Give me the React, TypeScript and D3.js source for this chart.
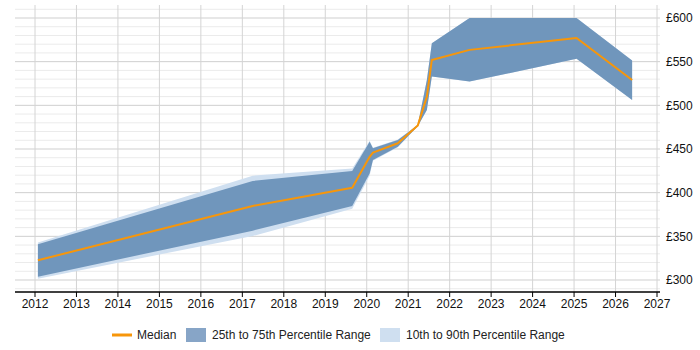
import React from "react";
import { scaleLinear, area, line, range } from "d3";

// sample dates (decimal years) and percentile values in £
const dates = [2012.07, 2017.25, 2019.65, 2020.07, 2020.15, 2020.75, 2021.23, 2021.45, 2021.57, 2022.48, 2025.06, 2026.4];
const median = [322.6, 384.8, 405.7, 441, 445.8, 456.6, 476.8, 510, 552, 563.5, 577.1, 529];
const p25 = [303.8, 356.5, 384.8, 422, 437.5, 452.7, 476, 494.8, 532.9, 527.2, 553.2, 506.2];
const p75 = [340.9, 413.4, 424.9, 458.4, 450.8, 460.4, 477.5, 529, 571, 600, 600, 551.3];
const p10 = [301.5, 350.4, 381.7, 419.5, 436.5, 452, 476, 494.8, 532.9, 527.2, 553.2, 506.2];
const p90 = [343, 419.5, 427.6, 459.5, 451.5, 461, 477.5, 529, 571, 600, 600, 551.3];

const yearTicks = range(2012, 2028);
const priceTicks = [300, 350, 400, 450, 500, 550, 600];
const minorTicks = range(290, 620, 10);

const legendItems = [
  { label: "Median", kind: "line", color: "#f7960a" },
  { label: "25th to 75th Percentile Range", kind: "box", color: "#87a5c7" },
  { label: "10th to 90th Percentile Range", kind: "box", color: "#cfdff0" },
];

const W = 700;
const H = 350;
const left = 15;
const right = 660;
const top = 5;
const bottom = 292;

export default function App() {
  const x = scaleLinear().domain([2012, 2027]).range([35, 657]);
  const y = scaleLinear().domain([300, 600]).range([280, 18]);

  const rows = dates.map((d, i) => ({ d, med: median[i], q1: p25[i], q3: p75[i], lo: p10[i], hi: p90[i] }));

  const outerArea = area<any>().x(r => x(r.d)).y0(r => y(r.lo)).y1(r => y(r.hi));
  const innerArea = area<any>().x(r => x(r.d)).y0(r => y(r.q1)).y1(r => y(r.q3));
  const medLine = line<any>().x(r => x(r.d)).y(r => y(r.med));

  const font = "'Liberation Sans', Arial, sans-serif";
  // legend swatch x positions
  const legendX = [112, 186, 380];

  return (
    <svg width={W} height={H} style={{ position: "absolute", left: 0, top: 0 }} fontFamily={font}>
      <rect width={W} height={H} fill="#fff" />
      {/* horizontal grid, £10 steps */}
      {minorTicks.filter(v => y(v) >= top && y(v) <= bottom).map(v => (
        <line key={v} x1={left} x2={right} y1={y(v)} y2={y(v)}
          stroke={v % 50 === 0 ? "#cfcfcf" : "#ebebeb"} strokeWidth={1} />
      ))}
      {/* vertical grid */}
      {yearTicks.map(t => (
        <line key={t} x1={x(t)} x2={x(t)} y1={top} y2={bottom} stroke="#d4d4d4" strokeWidth={1} />
      ))}

      <path d={outerArea(rows) ?? ""} fill="#cfdff0" />
      <path d={innerArea(rows) ?? ""} fill="#7096bc" />
      <path d={medLine(rows) ?? ""} fill="none" stroke="#f7960a" strokeWidth={2} strokeLinejoin="round" />

      {/* x axis */}
      <line x1={left} x2={right} y1={bottom} y2={bottom} stroke="#000" strokeWidth={1.5} />
      {yearTicks.map(t => (
        <g key={t}>
          <line x1={x(t)} x2={x(t)} y1={bottom} y2={bottom + 5} stroke="#000" />
          <text x={x(t)} y={308} textAnchor="middle" fontSize={12} fill="#111">{t}</text>
        </g>
      ))}

      {/* y axis labels on the right */}
      {priceTicks.map(v => (
        <text key={v} x={666} y={y(v)} dy="0.35em" fontSize={12} fill="#111">£{v}</text>
      ))}

      {/* legend */}
      <g transform="translate(0,335)">
        {legendItems.map((item, i) => (
          <g key={item.label} transform={`translate(${legendX[i]},0)`}>
            {item.kind === "line"
              ? <line x1={0} x2={20} y1={0} y2={0} stroke={item.color} strokeWidth={3} />
              : <rect x={0} y={-7} width={20} height={14} fill={item.color} />}
            <text x={item.kind === "line" ? 25 : 26} y={0} dy="0.35em" fontSize={12} fill="#222">{item.label}</text>
          </g>
        ))}
      </g>
    </svg>
  );
}
